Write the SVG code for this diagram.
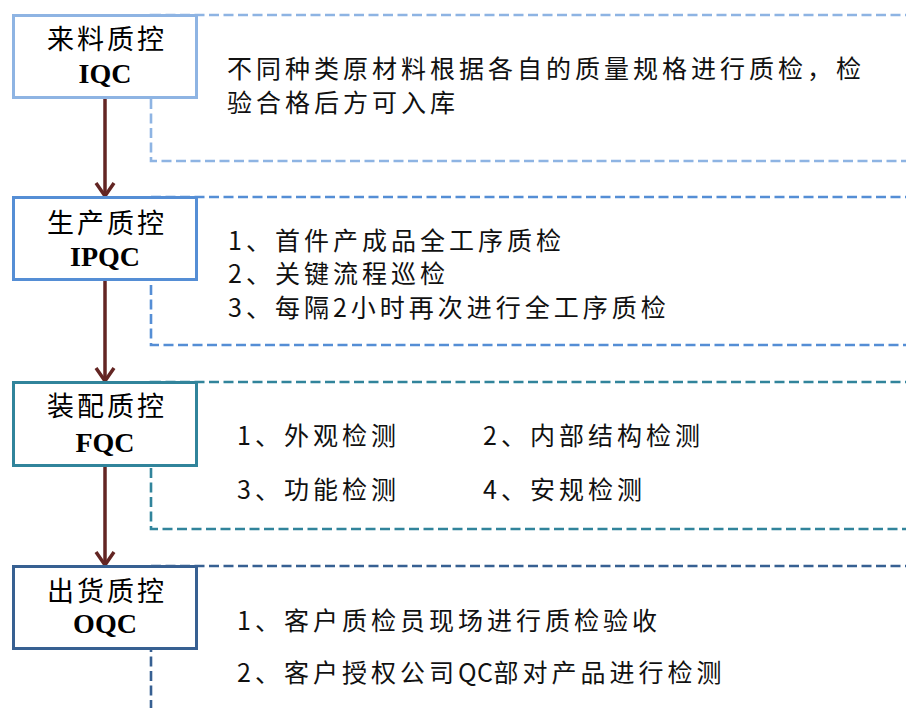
<svg xmlns="http://www.w3.org/2000/svg" width="906" height="708" viewBox="0 0 906 708">
<defs>
<style>
.dash{fill:none;stroke-width:2.6;stroke-dasharray:10 4.5}
.box{fill:#fff;stroke-width:3}
.t1{font-family:"Noto Sans CJK SC",sans-serif;font-size:27px;letter-spacing:3px;fill:#000;text-anchor:middle}
.t2{font-family:"Liberation Serif","Times New Roman",serif;font-size:28px;font-weight:bold;fill:#000;text-anchor:middle}
.d{font-family:"Noto Sans CJK SC",sans-serif;font-size:25px;letter-spacing:4px;fill:#111}
.arr{fill:none;stroke:#632523;stroke-width:3.5}
</style>
<marker id="ah" markerWidth="16" markerHeight="22" refX="14" refY="11" orient="auto" markerUnits="userSpaceOnUse" viewBox="0 0 16 22">
<path d="M1,2 L14,11 L1,20" fill="none" stroke="#632523" stroke-width="3.5"/>
</marker>
</defs>
<rect width="906" height="708" fill="#fff"/>
<g id="panels">
<rect class="dash" x="151" y="15" width="800" height="146" stroke="#8EB4E3"/>
<rect class="dash" x="151" y="197" width="800" height="148" stroke="#558ED5"/>
<rect class="dash" x="151" y="382" width="800" height="147" stroke="#31849B"/>
<rect class="dash" x="151" y="566" width="800" height="200" stroke="#376092"/>
</g>
<g id="connectors">
<path class="arr" d="M105,98 V196" marker-end="url(#ah)"/>
<path class="arr" d="M105,281 V381" marker-end="url(#ah)"/>
<path class="arr" d="M105,467 V565" marker-end="url(#ah)"/>
</g>
<g id="iqc">
<rect class="box" x="13.5" y="15.5" width="183" height="82" stroke="#8EB4E3"/>
<text class="t1" x="107" y="49">来料质控</text>
<text class="t2" x="105" y="83">IQC</text>
<text class="d" x="227" y="78">不同种类原材料根据各自的质量规格进行质检，检</text>
<text class="d" x="227" y="112">验合格后方可入库</text>
</g>
<g id="ipqc">
<rect class="box" x="13.5" y="197.5" width="183" height="82" stroke="#558ED5"/>
<text class="t1" x="107" y="233">生产质控</text>
<text class="t2" x="105" y="266">IPQC</text>
<text class="d" x="228" y="250">1、首件产成品全工序质检</text>
<text class="d" x="228" y="283">2、关键流程巡检</text>
<text class="d" x="228" y="317">3、每隔2小时再次进行全工序质检</text>
</g>
<g id="fqc">
<rect class="box" x="13.5" y="382.5" width="183" height="83" stroke="#31849B"/>
<text class="t1" x="107" y="416">装配质控</text>
<text class="t2" x="105" y="452">FQC</text>
<text class="d" x="237" y="445">1、外观检测</text>
<text class="d" x="483" y="445">2、内部结构检测</text>
<text class="d" x="237" y="499">3、功能检测</text>
<text class="d" x="483" y="499">4、安规检测</text>
</g>
<g id="oqc">
<rect class="box" x="13.5" y="566.5" width="183" height="82" stroke="#376092"/>
<text class="t1" x="107" y="601">出货质控</text>
<text class="t2" x="105" y="633">OQC</text>
<text class="d" x="237" y="630">1、客户质检员现场进行质检验收</text>
<text class="d" x="237" y="682">2、客户授权公司<tspan letter-spacing="0.5">QC</tspan>部对产品进行检测</text>
</g>
</svg>
